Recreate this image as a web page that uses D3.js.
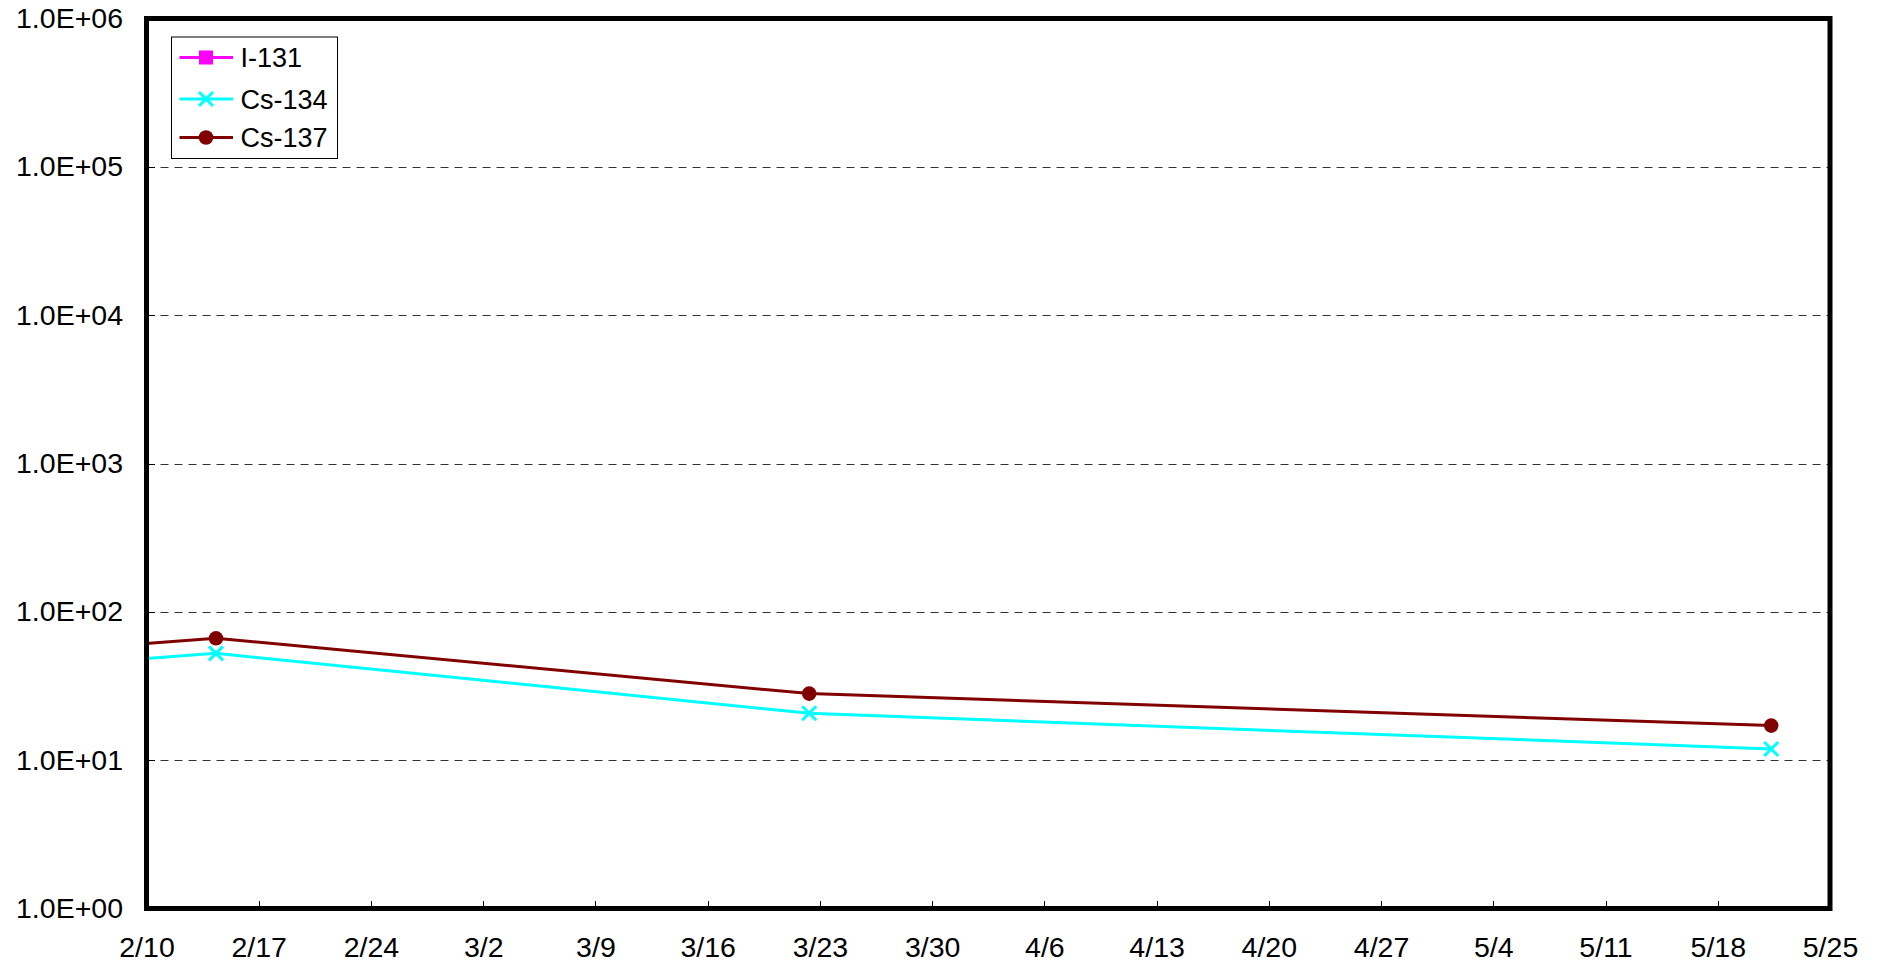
<!DOCTYPE html>
<html>
<head>
<meta charset="utf-8">
<script src="https://cdn.jsdelivr.net/npm/d3@7"></script>
<style>
  html, body { margin: 0; padding: 0; background: #fff; }
  svg { display: block; font-family: Arial, "Liberation Sans", sans-serif; }
</style>
</head>
<body>
<svg id="chart" width="1878" height="966"></svg>
<script>
// ---- data ----
const seriesNames = ["I-131", "Cs-134", "Cs-137"];
const sampleDates = ["2012-02-07T08:00", "2012-02-14T08:00", "2012-03-22T08:00", "2012-05-21T08:00"];
const i131Values = [null, null, null, null];   // not shown in the plot
const cs134Values = [46.1, 52.5, 20.7, 11.9];
const cs137Values = [58.2, 66.3, 28.1, 17.1];
const xTickDates = ["2012-02-10", "2012-02-17", "2012-02-24", "2012-03-02", "2012-03-09", "2012-03-16",
  "2012-03-23", "2012-03-30", "2012-04-06", "2012-04-13", "2012-04-20", "2012-04-27",
  "2012-05-04", "2012-05-11", "2012-05-18", "2012-05-25"];
const xTickLabels = ["2/10", "2/17", "2/24", "3/2", "3/9", "3/16", "3/23", "3/30", "4/6", "4/13",
  "4/20", "4/27", "5/4", "5/11", "5/18", "5/25"];
const yTickValues = [1, 10, 100, 1000, 10000, 100000, 1000000];
const yTickLabels = ["1.0E+00", "1.0E+01", "1.0E+02", "1.0E+03", "1.0E+04", "1.0E+05", "1.0E+06"];

(function () {
// ---- layout ----
const svg = d3.select("#chart");
const pL = 146.5, pR = 1830, pT = 18.5, pB = 908.5;
const parse = d3.timeParse("%Y-%m-%dT%H:%M");
const parseDay = d3.timeParse("%Y-%m-%d");
const x = d3.scaleTime().domain([parseDay(xTickDates[0]), parseDay(xTickDates[xTickDates.length - 1])]).range([pL, pR]);
const y = d3.scaleLog().domain([1, 1e6]).range([pB, pT]);

const colors = { "I-131": "#ff00ff", "Cs-134": "#00ffff", "Cs-137": "#800000" };
const series = [
  { name: seriesNames[0], values: i131Values, marker: "square" },
  { name: seriesNames[1], values: cs134Values, marker: "x" },
  { name: seriesNames[2], values: cs137Values, marker: "circle" }
];

// gridlines (dashed)
svg.append("g")
  .selectAll("line")
  .data(yTickValues.slice(1, -1))
  .join("line")
  .attr("x1", pL).attr("x2", pR)
  .attr("y1", d => Math.round(y(d)) + 0.5).attr("y2", d => Math.round(y(d)) + 0.5)
  .attr("stroke", "#333").attr("stroke-width", 1)
  .attr("stroke-dasharray", "8,6");

// y axis (ticks inside, labels on left)
const yAxis = d3.axisLeft(y).tickValues(yTickValues)
  .tickFormat((d, i) => yTickLabels[i]).tickSize(-8).tickPadding(23.5);
const gy = svg.append("g").attr("transform", `translate(${pL},0)`).call(yAxis);
gy.select(".domain").remove();
gy.selectAll("line").attr("stroke", "#000").attr("shape-rendering", "crispEdges");
gy.selectAll("text").attr("font-size", 28.5).attr("fill", "#000")
  .attr("font-family", "Arial, 'Liberation Sans', sans-serif");

// x axis (ticks inside pointing up, labels below)
const xAxis = d3.axisBottom(x).tickValues(xTickDates.map(parseDay))
  .tickFormat((d, i) => xTickLabels[i]).tickSize(-8).tickPadding(28.5);
const gx = svg.append("g").attr("transform", `translate(0,${pB})`).call(xAxis);
gx.select(".domain").remove();
gx.selectAll("line").attr("stroke", "#000").attr("shape-rendering", "crispEdges");
gx.selectAll("text").attr("font-size", 28.5).attr("fill", "#000")
  .attr("font-family", "Arial, 'Liberation Sans', sans-serif");

// clip for plotted data
svg.append("clipPath").attr("id", "plotclip")
  .append("rect").attr("x", pL).attr("y", pT).attr("width", pR - pL).attr("height", pB - pT);

const plot = svg.append("g").attr("clip-path", "url(#plotclip)");
const line = d3.line()
  .defined(d => d.v != null)
  .x(d => x(d.t)).y(d => y(d.v));

function drawMarker(g, type, color, cx, cy) {
  if (type === "circle") {
    g.append("circle").attr("cx", cx).attr("cy", cy).attr("r", 7.3).attr("fill", color);
  } else if (type === "x") {
    const h = 7;
    g.append("path").attr("d", `M${cx - h},${cy - h}L${cx + h},${cy + h}M${cx - h},${cy + h}L${cx + h},${cy - h}`)
      .attr("stroke", color).attr("stroke-width", 3).attr("fill", "none");
  } else if (type === "square") {
    const h = 7;
    g.append("rect").attr("x", cx - h).attr("y", cy - h).attr("width", 2 * h).attr("height", 2 * h).attr("fill", color);
  }
}

series.forEach(s => {
  const pts = sampleDates.map((d, i) => ({ t: parse(d), v: s.values[i] }));
  plot.append("path").datum(pts)
    .attr("d", line)
    .attr("fill", "none")
    .attr("stroke", colors[s.name])
    .attr("stroke-width", 3);
  pts.filter(p => p.v != null).forEach(p => drawMarker(plot, s.marker, colors[s.name], x(p.t), y(p.v)));
});

// frame
svg.append("rect")
  .attr("x", pL).attr("y", pT).attr("width", pR - pL).attr("height", pB - pT)
  .attr("fill", "none").attr("stroke", "#000").attr("stroke-width", 5);

// legend
const lg = svg.append("g");
lg.append("rect").attr("x", 171.5).attr("y", 37).attr("width", 166).attr("height", 121.5)
  .attr("fill", "#fff").attr("stroke", "#000").attr("stroke-width", 1);
const legendY = [57.5, 99, 137.5];
series.forEach((s, i) => {
  const yy = legendY[i];
  lg.append("line").attr("x1", 179.5).attr("x2", 233).attr("y1", yy).attr("y2", yy)
    .attr("stroke", colors[s.name]).attr("stroke-width", 3);
  drawMarker(lg, s.marker, colors[s.name], 206, yy);
  lg.append("text").attr("x", 240.5).attr("y", yy).attr("dy", "0.36em")
    .attr("font-size", 27).attr("fill", "#000").text(s.name);
});
})();
</script>
</body>
</html>
